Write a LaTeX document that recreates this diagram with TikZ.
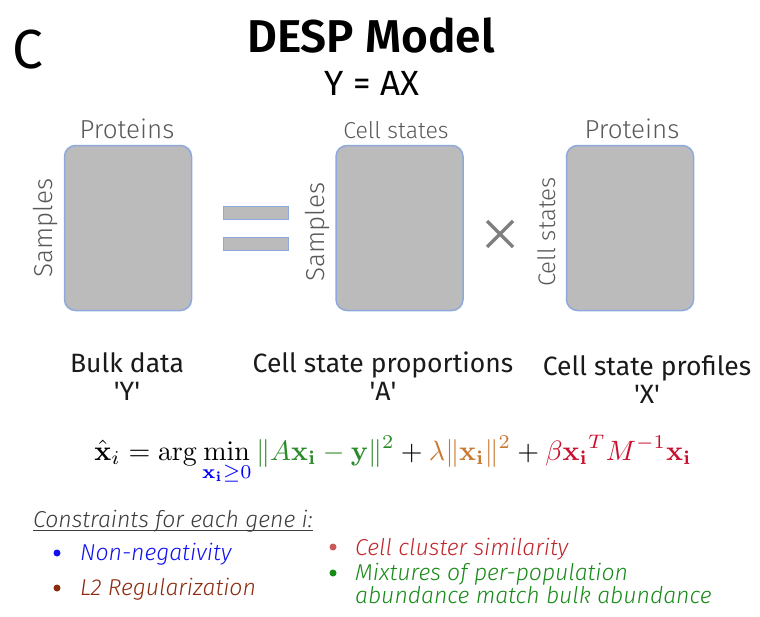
\documentclass[tikz,border=0pt]{standalone}
\usepackage[no-math]{fontspec}
\usepackage{amsmath,amssymb}
\usepackage{graphicx}
\setmainfont{Fira Sans}[UprightFont={* Light}, ItalicFont={* Light Italic}, BoldFont={* SemiBold}]
\newfontfamily\regfont{Fira Sans}
\definecolor{boxfill}{HTML}{BBBBBB}
\definecolor{boxline}{HTML}{8EA9DB}
\definecolor{labgray}{HTML}{595959}
\definecolor{timesgray}{HTML}{7F7F7F}
\definecolor{txtdark}{HTML}{1A1A1A}
\definecolor{eqgreen}{HTML}{2A8A2A}
\definecolor{eqorange}{HTML}{C8782F}
\definecolor{eqred}{HTML}{C8102E}
\definecolor{cblue}{HTML}{1010F0}
\definecolor{cbrown}{HTML}{8B2A0E}
\definecolor{cred}{HTML}{C0272D}
\definecolor{credbullet}{HTML}{C85A5A}
\definecolor{cgreen}{HTML}{178A17}
\tikzset{
  matbox/.style={draw=boxline, fill=boxfill, line width=1.5pt, rounded corners=11pt,
    minimum width=127pt, minimum height=165pt, inner sep=0pt},
  toplab/.style={text=labgray, anchor=base, inner sep=0pt},
  sidelab/.style={text=labgray, rotate=90, inner sep=0pt},
  botlab/.style={text=txtdark, anchor=base, inner sep=0pt,
    font=\fontsize{26.5}{29}\selectfont\regfont},
  eqbar/.style={draw=boxline, fill=boxfill, line width=1pt},
  crit/.style={anchor=base west, inner sep=0pt, font=\fontsize{23}{24}\selectfont\itshape},
  dot/.style={circle, inner sep=0pt, minimum size=7pt}
}
\begin{document}
\begin{tikzpicture}[x=1pt,y=-1pt]
\useasboundingbox (0,0) rectangle (760,616);
% panel letter and title
\node[anchor=base west, inner sep=0pt, font=\fontsize{55}{60}\selectfont\regfont] (letter) at (12,68) {C};
\node[anchor=base, inner sep=0pt, font=\fontsize{46}{50}\selectfont\bfseries] (title) at (371,52) {DESP Model};
\node[anchor=base, inner sep=0pt, font=\fontsize{35}{40}\selectfont\regfont] (formula) at (372,95) {Y = AX};
% matrices
\node[matbox] (by) at (128,228) {};
\node[matbox] (ba) at (399.5,228) {};
\node[matbox] (bx) at (630,228) {};
% top labels
\node[toplab, font=\fontsize{26}{28}\selectfont] (ty) at (127,138) {Proteins};
\node[toplab, font=\fontsize{23}{26}\selectfont] (ta) at (396,138) {Cell states};
\node[toplab, font=\fontsize{26}{28}\selectfont] (tx) at (632,138) {Proteins};
% side labels
\node[sidelab, font=\fontsize{26}{28}\selectfont] (sy) at (46,228) {Samples};
\node[sidelab, font=\fontsize{26}{28}\selectfont] (sa) at (318,232) {Samples};
\node[sidelab, font=\fontsize{24}{26}\selectfont] (sx) at (547,232) {Cell states};
% equals sign
\draw[eqbar] (223,206) rectangle (288,219);
\draw[eqbar] (223,237) rectangle (288,250);
% times sign
\draw[timesgray, line width=3.5pt] (487,221) -- (513,247) (487,247) -- (513,221);
% bottom labels
\node[botlab] (ly1) at (127,372) {Bulk data};
\node[botlab] (ly2) at (127,400) {\textquotesingle Y\textquotesingle};
\node[botlab] (la1) at (383,372) {Cell state proportions};
\node[botlab] (la2) at (383,400) {\textquotesingle A\textquotesingle};
\node[botlab] (lx1) at (647,375) {Cell state profiles};
\node[botlab] (lx2) at (647,403) {\textquotesingle X\textquotesingle};
% objective
\node[anchor=base, inner sep=0pt] (eq) at (393,460) {\resizebox{597pt}{!}{$\displaystyle
  \hat{\mathbf{x}}_i = \arg\min_{\color{blue}\mathbf{x_i}\geq 0}
  {\color{eqgreen}\|A\mathbf{x_i}-\mathbf{y}\|^2} +
  {\color{eqorange}\lambda\|\mathbf{x_i}\|^2} +
  {\color{eqred}\beta\mathbf{x_i}^T M^{-1}\mathbf{x_i}}$}};
% constraints
\node[crit, text=txtdark!85] (ch) at (33,527) {Constraints for each gene i:};
\draw[txtdark!85, line width=0.9pt] ([yshift=-3pt]ch.base west) -- ([yshift=-3pt]ch.base east);
\node[dot, fill=cblue] (d1) at (57,553) {};
\node[crit, text=cblue] (c1) at (80,560) {Non-negativity};
\node[dot, fill=cbrown] (d2) at (57,588) {};
\node[crit, text=cbrown] (c2) at (80,595) {L2 Regularization};
\node[dot, fill=credbullet] (d3) at (333,547) {};
\node[crit, text=cred] (c3) at (355,555) {Cell cluster similarity};
\node[dot, fill=cgreen] (d4) at (333,573) {};
\node[crit, text=cgreen] (c4) at (355,580) {Mixtures of per-population};
\node[crit, text=cgreen] (c5) at (355,603) {abundance match bulk abundance};
\end{tikzpicture}
\end{document}
